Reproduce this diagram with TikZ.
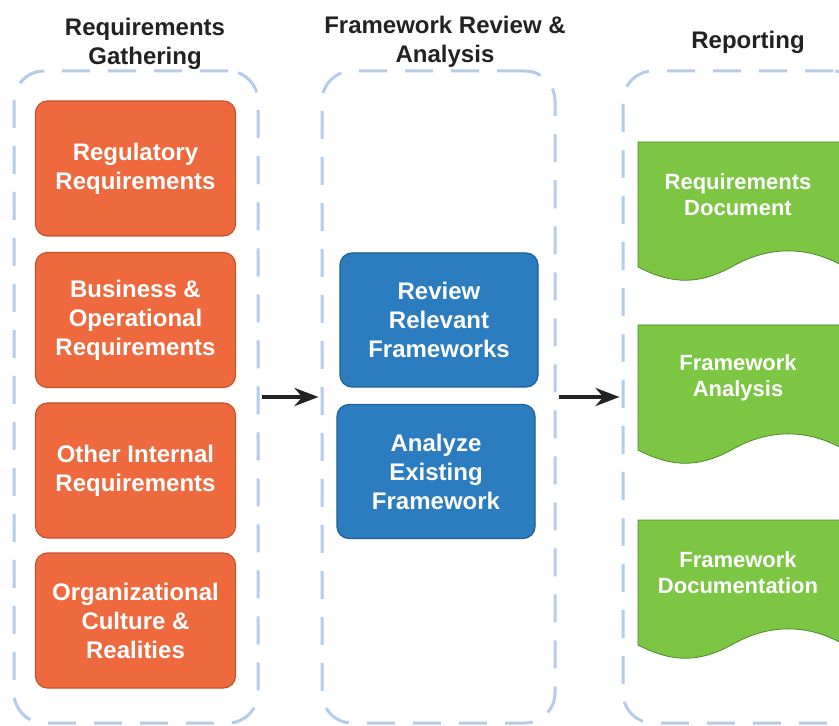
\documentclass[tikz,border=0pt]{standalone}
\usepackage{fontspec}
\setmainfont{Liberation Sans}
\usetikzlibrary{arrows.meta}

\definecolor{gatherfill}{HTML}{EE6A3E}
\definecolor{gatherline}{HTML}{C5532D}
\definecolor{reviewfill}{HTML}{2C7CC0}
\definecolor{reviewline}{HTML}{1F5E96}
\definecolor{reportfill}{HTML}{7DC644}
\definecolor{reportline}{HTML}{4E8A2A}
\definecolor{stageline}{HTML}{B4CCEA}
\definecolor{titletext}{HTML}{222222}

\tikzset{
    stagebox/.style={draw=stageline, line width=1.5pt, dash pattern=on 14pt off 9pt,
        rounded corners=15pt, minimum height=326pt},
    stagetitle/.style={text=titletext, align=center, font=\bfseries\fontsize{12}{14.5}\selectfont},
    taskbox/.style={line width=0.6pt, rounded corners=6pt, text=white, align=center,
        minimum width=100pt, minimum height=67.5pt,
        font=\bfseries\fontsize{12}{14.5}\selectfont},
    gather/.style={taskbox, fill=gatherfill, draw=gatherline},
    review/.style={taskbox, fill=reviewfill, draw=reviewline},
    docshape/.style={fill=reportfill, draw=reportline, line width=0.4pt},
    doctext/.style={text=white, align=center, font=\bfseries\fontsize{11}{13}\selectfont},
    flowarrow/.style={line width=2.4pt, color=titletext, -{Stealth[length=12pt,width=9pt]},
        shorten <=1pt, shorten >=1pt}
}

% report page with a wavy lower edge
\newcommand{\reportdoc}[3]{%
    \begin{scope}[shift={(638,#1)}]
        \filldraw[docshape] (0,0) -- (205,0) -- (205,124)
            .. controls (170,104) and (132,104) .. (97,123)
            .. controls (62,143) and (35,143) .. (0,125) -- cycle;
        \node[doctext] (#2) at (100,53) {#3};
    \end{scope}}

\begin{document}
\begin{tikzpicture}[x=0.5pt, y=-0.5pt]
    \useasboundingbox[fill=white] (0,0) rectangle (839,726);

    \node[stagebox, minimum width=122pt] (gathering) at (136,397) {};
    \node[stagebox, minimum width=116.5pt] (analysis) at (438.5,397) {};
    \node[stagebox, minimum width=120pt] (reporting) at (743,397) {};

    \node[stagetitle] (gatheringtitle) at (145,44) {Requirements\\Gathering};
    \node[stagetitle] (analysistitle) at (445,42) {Framework Review \&\\Analysis};
    \node[stagetitle] (reportingtitle) at (748,42) {Reporting};

    \node[gather] (regulatory) at (135.5,168.5) {Regulatory\\Requirements};
    \node[gather] (business) at (135.5,320) {Business \&\\Operational\\Requirements};
    \node[gather] (internal) at (135.5,470.5) {Other Internal\\Requirements};
    \node[gather] (culture) at (135.5,620.5) {Organizational\\Culture \&\\Realities};

    \node[review, minimum width=99pt, minimum height=67pt] (relevant) at (439,320) {Review\\Relevant\\Frameworks};
    \node[review, minimum width=99pt, minimum height=67pt] (existing) at (436,471.5) {Analyze\\Existing\\Framework};

    \reportdoc{142}{reqdoc}{Requirements\\Document}
    \reportdoc{325}{analysisdoc}{Framework\\Analysis}
    \reportdoc{520}{frameworkdoc}{Framework\\Documentation}

    \draw[flowarrow] (gathering.east) -- (analysis.west);
    \draw[flowarrow] (analysis.east) -- (reporting.west);
\end{tikzpicture}
\end{document}
